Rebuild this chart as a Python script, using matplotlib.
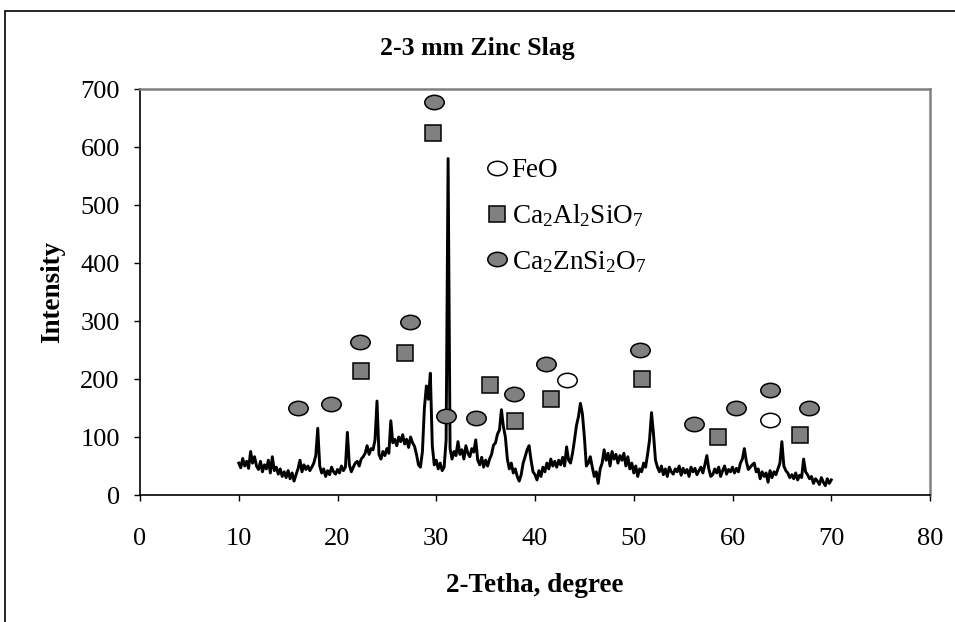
#!/usr/bin/env python3
import matplotlib
matplotlib.use("Agg")
import matplotlib.pyplot as plt
import numpy as np
from matplotlib.lines import Line2D
from matplotlib.patches import Rectangle
from matplotlib.path import Path

plt.rcParams["font.family"] = ["Liberation Serif", "DejaVu Serif"]
plt.rcParams["mathtext.fontset"] = "custom"
plt.rcParams["mathtext.rm"] = "Liberation Serif"
plt.rcParams["mathtext.it"] = "Liberation Serif"

color_grey = "#808080"

# XRD scan, 2-theta from 10 to 70 in steps of 0.2
two_theta = np.round(np.arange(10.0, 70.01, 0.2), 1)
intensity = [
    55, 47, 63, 50, 58, 46, 75, 55, 66, 50,      # 10
    44, 58, 40, 52, 45, 60, 38, 66, 42, 48,      # 12
    36, 45, 32, 40, 30, 42, 28, 38, 24, 35,      # 14
    45, 60, 40, 52, 44, 50, 42, 48, 55, 68,      # 16
    115, 50, 38, 45, 32, 42, 35, 48, 40, 36,     # 18
    44, 38, 50, 42, 48, 108, 52, 40, 48, 55,     # 20
    58, 50, 62, 66, 72, 85, 70, 80, 78, 95,      # 22
    162, 70, 62, 75, 68, 80, 72, 128, 90, 96,    # 24
    85, 100, 92, 104, 88, 96, 82, 100, 90, 84,   # 26
    70, 52, 48, 75, 150, 188, 165, 210, 85, 52,  # 28
    60, 45, 55, 42, 48, 95, 580, 80, 62, 75,     # 30
    68, 92, 70, 78, 62, 85, 72, 66, 80, 74,      # 32
    95, 60, 52, 65, 48, 60, 50, 62, 70, 86,      # 34
    90, 105, 112, 147, 118, 100, 62, 45, 55, 38, # 36
    45, 32, 24, 35, 55, 66, 78, 85, 60, 40,      # 38
    35, 26, 42, 32, 48, 40, 55, 45, 62, 50,      # 40
    58, 48, 60, 52, 65, 50, 83, 60, 55, 72,      # 42
    95, 120, 135, 158, 140, 100, 50, 55, 66, 48, # 44
    32, 40, 20, 45, 55, 78, 60, 72, 50, 75,      # 46
    62, 70, 55, 68, 60, 72, 50, 66, 45, 55,      # 48
    38, 50, 32, 45, 40, 55, 48, 70, 95, 142,     # 50
    105, 60, 48, 40, 50, 35, 45, 32, 48, 40,     # 52
    36, 45, 40, 50, 34, 46, 38, 44, 32, 48,      # 54
    40, 46, 35, 42, 48, 38, 52, 68, 45, 32,      # 56
    35, 45, 38, 48, 32, 42, 50, 36, 44, 40,      # 58
    48, 38, 46, 40, 55, 62, 80, 58, 44, 48,      # 60
    52, 55, 40, 45, 28, 40, 32, 38, 22, 42,      # 62
    30, 40, 35, 45, 55, 92, 50, 42, 38, 30,      # 64
    35, 28, 38, 26, 34, 30, 62, 40, 35, 28,      # 66
    32, 20, 28, 24, 18, 30, 22, 16, 28, 20,      # 68
    26,                                          # 70
]

# phase markers (2-theta, height of symbol)
feo_x = [43.2, 63.8]
feo_y = [198, 129]
gehl_x = [22.4, 26.8, 29.7, 35.4, 38.0, 41.6, 50.8, 58.5, 66.8]
gehl_y = [214, 245, 624, 189, 127, 166, 200, 100, 103]
hard_x = [16.0, 19.3, 22.3, 27.3, 29.8, 31.0, 34.0, 37.9, 41.1, 50.6, 56.1, 60.4, 63.8, 67.7]
hard_y = [150, 157, 264, 298, 678, 136, 133, 174, 226, 250, 122, 150, 181, 150]

x_ticks = list(range(0, 81, 10))
y_ticks = list(range(0, 701, 100))


def ellipse_marker():
    circ = Path.unit_circle()
    verts = circ.vertices * np.array([1.0, 0.74])
    return Path(verts, circ.codes)


def main():
    fig = plt.figure(figsize=(9.55, 6.22), dpi=100)
    ax = fig.add_axes([140 / 955, 1 - 495 / 622, 790 / 955, 406 / 622])

    ell = ellipse_marker()
    mk = dict(linestyle="none", markeredgecolor="black", markeredgewidth=1.1)

    ax.plot(two_theta, intensity, color="black", lw=2.1, zorder=2)
    ax.plot(feo_x, feo_y, marker=ell, markersize=14, markerfacecolor="white", zorder=3, **mk)
    ax.plot(gehl_x, gehl_y, marker="s", markersize=12, markerfacecolor=color_grey, zorder=3, **mk)
    ax.plot(hard_x, hard_y, marker=ell, markersize=14, markerfacecolor=color_grey, zorder=3, **mk)

    ax.set_xlim(0, 80)
    ax.set_ylim(0, 700)
    ax.set_xticks(x_ticks)
    ax.set_yticks(y_ticks)
    ax.tick_params(axis="both", direction="out", length=4.5, width=1, labelsize=19)
    ax.tick_params(axis="x", pad=19)
    ax.tick_params(axis="y", pad=10)

    for s in ["left", "bottom"]:
        ax.spines[s].set_color("black")
        ax.spines[s].set_linewidth(1.2)
    for s in ["top", "right"]:
        ax.spines[s].set_color(color_grey)
        ax.spines[s].set_linewidth(1.8)

    ax.set_xlabel("2-Tetha, degree", fontsize=19.5, fontweight="bold")
    ax.xaxis.set_label_coords(0.5, -0.222)
    ax.xaxis.label.set_va("center")
    ax.set_ylabel("Intensity", fontsize=19.5, fontweight="bold")
    ax.yaxis.set_label_coords(-0.11, 0.5)
    ax.yaxis.label.set_va("center")

    fig.text(0.5, 1 - 48 / 622, "2-3 mm Zinc Slag", ha="center", va="center",
             fontsize=18.5, fontweight="bold")

    handles = [
        Line2D([], [], marker=ell, markersize=14, markerfacecolor="white", **mk),
        Line2D([], [], marker="s", markersize=12, markerfacecolor=color_grey, **mk),
        Line2D([], [], marker=ell, markersize=14, markerfacecolor=color_grey, **mk),
    ]
    labels = ["FeO",
              r"Ca$_\mathrm{2}$Al$_\mathrm{2}$SiO$_\mathrm{7}$",
              r"Ca$_\mathrm{2}$ZnSi$_\mathrm{2}$O$_\mathrm{7}$"]
    ax.legend(handles, labels, loc="upper left", bbox_to_anchor=(0.437, 0.830),
              frameon=False, fontsize=19.5, borderpad=0, handlelength=0.9,
              handletextpad=0.08, labelspacing=0.72, borderaxespad=0)

    fig.patches.append(Rectangle((5 / 955, -0.1), 1.2, 1 - 11 / 622 + 0.1,
                                 transform=fig.transFigure, fill=False,
                                 lw=1.2, ec="black"))

    fig.savefig("out.png", dpi=100)


if __name__ == "__main__":
    main()
